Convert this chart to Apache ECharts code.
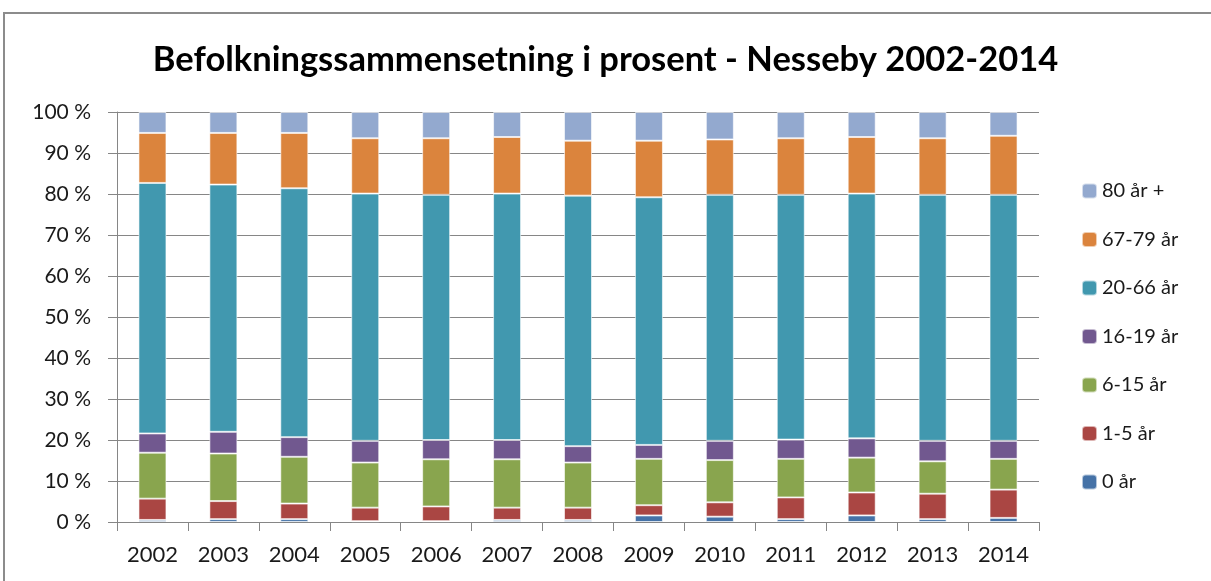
<!DOCTYPE html>
<html>
<head>
<meta charset="utf-8">
<script src="https://cdn.jsdelivr.net/npm/echarts@6/dist/echarts.min.js"></script>
<style>
  html, body { margin: 0; padding: 0; background: #fff; }
  #main { width: 1211px; height: 581px; }
</style>
</head>
<body>
<div id="main"></div>
<script>
var years = ['2002','2003','2004','2005','2006','2007','2008','2009','2010','2011','2012','2013','2014'];

// prosentandeler per aldersgruppe, lest av figuren
var age0    = [0.5, 0.7, 0.7, 0.2, 0.2, 0.5, 0.5, 1.6, 1.3, 0.7, 1.6, 0.7, 1.0];
var age1_5  = [5.2, 4.4, 3.8, 3.3, 3.6, 3.0, 3.0, 2.5, 3.5, 5.3, 5.6, 6.2, 6.9];
var age6_15 = [11.2, 11.6, 11.4, 11.0, 11.5, 11.8, 11.0, 11.3, 10.3, 9.4, 8.5, 7.9, 7.5];
var age16_19 = [4.7, 5.3, 4.8, 5.3, 4.7, 4.7, 4.0, 3.4, 4.7, 4.7, 4.7, 5.0, 4.4];
var age20_66 = [61.1, 60.3, 60.7, 60.3, 59.8, 60.1, 61.1, 60.4, 60.0, 59.7, 59.7, 60.0, 60.0];
var age67_79 = [12.2, 12.6, 13.5, 13.5, 13.8, 13.8, 13.4, 13.8, 13.5, 13.8, 13.8, 13.8, 14.4];
var age80 = [5.1, 5.1, 5.1, 6.4, 6.4, 6.1, 7.0, 7.0, 6.7, 6.4, 6.1, 6.4, 5.8];

var groupNames = ['0 år', '1-5 år', '6-15 år', '16-19 år', '20-66 år', '67-79 år', '80 år +'];
var groupData = [age0, age1_5, age6_15, age16_19, age20_66, age67_79, age80];
var groupColors = ['#4572A7', '#AA4643', '#89A54E', '#71588F', '#4198AF', '#DB843D', '#93A9CF'];

var yTicks = [0, 10, 20, 30, 40, 50, 60, 70, 80, 90, 100];

var font = 'Lato, "Open Sans", sans-serif';
var textColor = '#1a1a1a';

var chart = echarts.init(document.getElementById('main'));

var seriesList = groupNames.map(function (name, i) {
  return {
    name: name,
    type: 'bar',
    stack: 'total',
    barWidth: 28,
    data: groupData[i],
    itemStyle: {
      color: groupColors[i],
      borderColor: 'rgba(255,255,255,0.6)',
      borderWidth: 1
    }
  };
});

var option = {
  animation: false,
  backgroundColor: '#fff',
  textStyle: { fontFamily: font },
  title: {
    text: 'Befolkningssammensetning i prosent - Nesseby 2002-2014',
    left: 'center',
    top: 37,
    textStyle: { fontFamily: font, fontWeight: 'bold', fontSize: 34.5, color: '#000' }
  },
  graphic: [{
    type: 'rect',
    shape: { x: 4, y: 13, width: 1400, height: 800 },
    style: { fill: null, stroke: '#8c8c8c', lineWidth: 2 },
    z: -10
  }],
  legend: {
    orient: 'vertical',
    left: 1076,
    top: 176,
    itemWidth: 15,
    itemHeight: 15,
    itemGap: 28.5,
    itemTextGap: 7,
    data: groupNames.slice().reverse(),
    textStyle: { fontFamily: font, fontSize: 20, color: textColor }
  },
  grid: { left: 117, right: 172, top: 112, bottom: 59 },
  xAxis: {
    type: 'category',
    data: years,
    axisLine: { lineStyle: { color: '#868686', width: 1 } },
    axisTick: { show: true, length: 9, lineStyle: { color: '#868686' } },
    axisLabel: { color: textColor, fontSize: 22, margin: 22, fontFamily: font }
  },
  yAxis: {
    type: 'value',
    min: yTicks[0],
    max: yTicks[yTicks.length - 1],
    interval: 10,
    axisLine: { show: true, lineStyle: { color: '#868686', width: 1 } },
    axisTick: { show: true, length: 9, lineStyle: { color: '#868686' } },
    axisLabel: { color: textColor, fontSize: 21, margin: 26, fontFamily: font, formatter: '{value} %' },
    splitLine: { show: true, lineStyle: { color: '#868686', width: 1 } }
  },
  series: seriesList
};

chart.setOption(option);
</script>
</body>
</html>
